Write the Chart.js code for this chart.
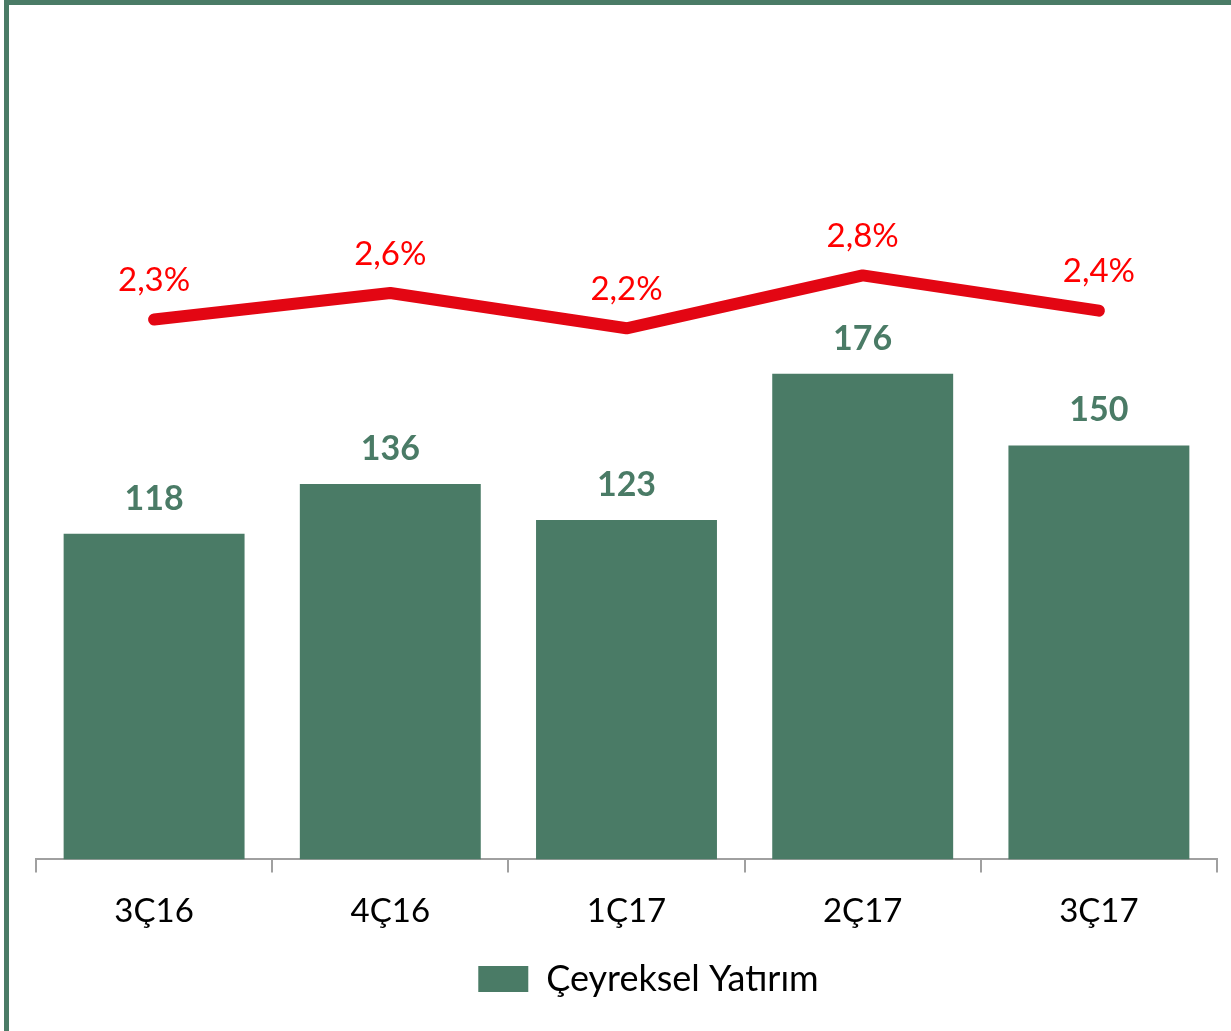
<!DOCTYPE html>
<html>
<head>
<meta charset="utf-8">
<script src="https://cdn.jsdelivr.net/npm/chart.js@4.4.1/dist/chart.umd.min.js"></script>
<style>
    html, body { margin: 0; padding: 0; background: #fff; overflow: hidden; }
    #frame {
        position: absolute; left: 4px; top: 0px;
        width: 1240px; height: 1026px;
        border: 5px solid #4a7b66;
    }
    #wrap { position: absolute; left: 0; top: 0; width: 1231px; height: 1031px; }
</style>
</head>
<body>
<div id="frame"></div>
<div id="wrap"><canvas id="chart" width="1231" height="1031"></canvas></div>
<script>
const categories = ['3Ç16', '4Ç16', '1Ç17', '2Ç17', '3Ç17'];
const investment = [118, 136, 123, 176, 150];
const ratio = [2.3, 2.6, 2.2, 2.8, 2.4];

const GREEN = '#4a7b66';
const FONT = "Lato, 'Open Sans', sans-serif";

// yazilari kendimiz ciziyoruz (datalabels yok)
const labelPlugin = {
    id: 'valueLabels',
    afterLayout(chart) {
        // legend biraz saga
        if (chart.legend) {
            chart.legend.left += 22;
            chart.legend.right += 22;
        }
    },
    afterDatasetsDraw(chart) {
        const ctx = chart.ctx;
        ctx.save();
        ctx.textAlign = 'center';
        ctx.textBaseline = 'middle';

        const bars = chart.getDatasetMeta(0).data;
        ctx.fillStyle = GREEN;
        ctx.font = `bold 34px ${FONT}`;
        bars.forEach((el, i) => {
            ctx.fillText(String(investment[i]), el.x, el.y - 35);
        });

        const pts = chart.getDatasetMeta(1).data;
        ctx.fillStyle = '#ff0000';
        ctx.font = `33px ${FONT}`;
        pts.forEach((el, i) => {
            ctx.fillText(ratio[i].toFixed(1).replace('.', ',') + '%', el.x, el.y - 39);
        });
        ctx.restore();
    }
};

const ctx = document.getElementById('chart').getContext('2d');
new Chart(ctx, {
    data: {
        labels: categories,
        datasets: [
            {
                type: 'bar',
                label: 'Çeyreksel Yatırım',
                data: investment,
                backgroundColor: GREEN,
                categoryPercentage: 1,
                barPercentage: 0.766,
                yAxisID: 'y',
                order: 2
            },
            {
                type: 'line',
                label: 'Oran',
                data: ratio,
                borderColor: '#e30613',
                borderWidth: 12,
                borderCapStyle: 'round',
                borderJoinStyle: 'round',
                pointRadius: 0,
                tension: 0,
                clip: false,
                yAxisID: 'y2',
                order: 1
            }
        ]
    },
    options: {
        responsive: false,
        animation: false,
        devicePixelRatio: 1,
        layout: { padding: { left: 36, right: 14, top: 31.5, bottom: 24 } },
        scales: {
            x: {
                offset: true,
                grid: {
                    offset: true,
                    drawOnChartArea: false,
                    drawTicks: true,
                    tickLength: 13,
                    color: '#a0a0a0',
                    lineWidth: 2
                },
                border: { color: '#a0a0a0', width: 2 },
                ticks: {
                    color: '#000',
                    padding: 19,
                    font: { family: FONT, size: 33 }
                }
            },
            y: { display: false, min: 0, max: 300 },
            y2: { display: false, min: -3.825, max: 5.567, position: 'right' }
        },
        plugins: {
            legend: {
                position: 'bottom',
                labels: {
                    filter: (item) => item.datasetIndex === 0,
                    boxWidth: 50,
                    boxHeight: 26,
                    padding: 11,
                    color: '#000',
                    font: { family: FONT, size: 36 }
                }
            },
            tooltip: { enabled: false }
        }
    },
    plugins: [labelPlugin]
});
</script>
</body>
</html>
